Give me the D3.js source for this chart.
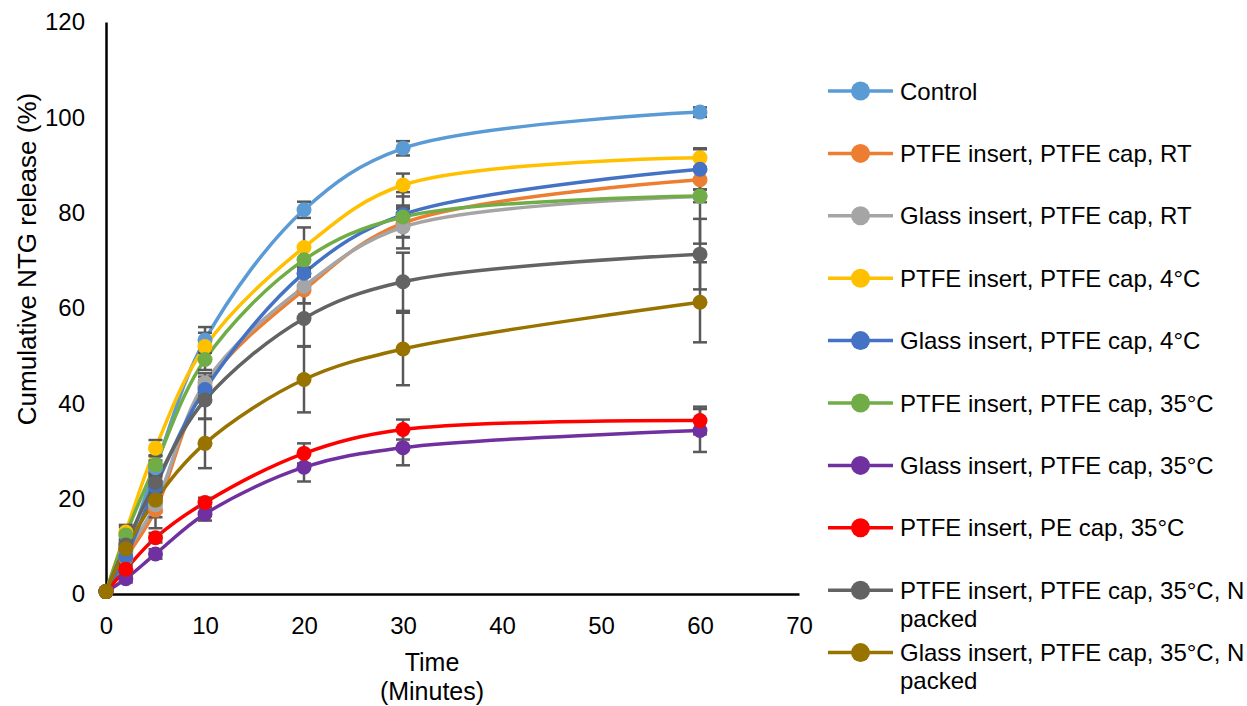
<!DOCTYPE html>
<html><head><meta charset="utf-8">
<script src="https://cdn.jsdelivr.net/npm/d3@7"></script>
<style>
body{margin:0;background:#fff}
svg{display:block}
text{font-family:"Liberation Sans",Arial,sans-serif;fill:#000}
</style>
</head><body>
<svg id="chart" width="1247" height="706"></svg>
<script>
// ---- data ----
const times = [0, 2, 5, 10, 20, 30, 60];
const xTicks = [0, 10, 20, 30, 40, 50, 60, 70];
const yTicks = [0, 20, 40, 60, 80, 100, 120];

const seriesNames = [
  "Control",
  "PTFE insert, PTFE cap, RT",
  "Glass insert, PTFE cap, RT",
  "PTFE insert, PTFE cap, 4°C",
  "Glass insert, PTFE cap, 4°C",
  "PTFE insert, PTFE cap, 35°C",
  "Glass insert, PTFE cap, 35°C",
  "PTFE insert, PE cap, 35°C",
  "PTFE insert, PTFE cap, 35°C, N packed",
  "Glass insert, PTFE cap, 35°C, N packed"
];
const seriesColors = ["#5B9BD5","#ED7D31","#A5A5A5","#FFC000","#4472C4","#70AD47","#7030A0","#FF0000","#636363","#997300"];

const control      = [0.5, 9.0, 26.5, 53.3, 80.6, 93.5, 101.1];
const ptfeRT       = [0.5, 7.5, 17.6, 43.6, 63.8, 77.8, 86.9];
const glassRT      = [0.5, 8.5, 18.7, 44.3, 64.5, 77.0, 83.4];
const ptfe4C       = [0.5, 13.0, 30.6, 51.9, 72.7, 85.8, 91.5];
const glass4C      = [0.5, 7.8, 22.5, 42.9, 67.3, 79.6, 89.1];
const ptfe35C      = [0.5, 12.4, 27.1, 49.2, 70.1, 79.1, 83.5];
const glass35C     = [0.5, 3.2, 8.4, 16.8, 26.6, 30.7, 34.3];
const ptfePE35C    = [0.5, 5.2, 11.8, 19.2, 29.5, 34.5, 36.4];
const ptfeN35C     = [0.5, 10.3, 23.4, 40.7, 57.8, 65.5, 71.3];
const glassN35C    = [0.5, 9.5, 19.7, 31.6, 45.0, 51.4, 61.2];

const errControl   = [0, 1.0, 1.5, 2.7, 1.7, 1.5, 1.0];
const errPtfeRT    = [0, 1.0, 1.5, 2.0, 2.8, 3.0, 2.0];
const errGlassRT   = [0, 1.0, 1.5, 2.0, 3.5, 4.5, 9.9];
const errPtfe4C    = [0, 1.5, 1.7, 2.9, 4.2, 2.4, 2.0];
const errGlass4C   = [0, 1.0, 2.0, 2.0, 3.0, 4.7, 4.3];
const errPtfe35C   = [0, 1.6, 2.0, 2.2, 2.5, 2.0, 1.3];
const errGlass35C  = [0, 0.8, 1.0, 1.4, 3.0, 3.7, 4.5];
const errPtfePE35C = [0, 0.8, 1.0, 1.0, 2.1, 2.1, 2.9];
const errPtfeN35C  = [0, 1.0, 2.0, 4.0, 5.8, 6.1, 7.4];
const errGlassN35C = [0, 1.0, 5.9, 5.2, 6.9, 7.6, 8.4];

const seriesValues = [control, ptfeRT, glassRT, ptfe4C, glass4C, ptfe35C, glass35C, ptfePE35C, ptfeN35C, glassN35C];
const seriesErrors = [errControl, errPtfeRT, errGlassRT, errPtfe4C, errGlass4C, errPtfe35C, errGlass35C, errPtfePE35C, errPtfeN35C, errGlassN35C];

// ---- build ----
const series = seriesNames.map((name, i) => ({
  name, color: seriesColors[i],
  points: times.map((t, j) => ({t, v: seriesValues[i][j], e: seriesErrors[i][j]}))
}));

const svg = d3.select("#chart");
const x = d3.scaleLinear().domain([0, 70]).range([106, 799]);
const y = d3.scaleLinear().domain([0, 120]).range([594, 22]);

// axes
const xAxis = svg.append("g").attr("transform", `translate(0,${y(0)})`)
  .call(d3.axisBottom(x).tickValues(xTicks).tickSize(0).tickPadding(23).tickFormat(d3.format("d")));
const yAxis = svg.append("g").attr("transform", `translate(${x(0)},0)`)
  .call(d3.axisLeft(y).tickValues(yTicks).tickSize(0).tickPadding(21).tickFormat(d3.format("d")));
[xAxis, yAxis].forEach(a => {
  a.select(".domain").attr("stroke", "#000").attr("stroke-width", 2.5);
  a.selectAll("text").attr("font-size", 24).attr("font-family", '"Liberation Sans",Arial,sans-serif').attr("fill", "#000");
});

// axis titles
svg.append("text").attr("x", 432).attr("y", 671).attr("text-anchor", "middle").attr("font-size", 25).text("Time");
svg.append("text").attr("x", 432).attr("y", 700).attr("text-anchor", "middle").attr("font-size", 25).text("(Minutes)");
svg.append("text").attr("transform", "translate(36,259) rotate(-90)").attr("text-anchor", "middle").attr("font-size", 26)
  .text("Cumulative NTG release (%)");

const line = d3.line().x(d => x(d.t)).y(d => y(d.v)).curve(d3.curveCatmullRom.alpha(0.5));

const plot = svg.append("g");
// lines
plot.selectAll(".series-line").data(series).join("path")
  .attr("class", "series-line")
  .attr("d", d => line(d.points))
  .attr("fill", "none").attr("stroke", d => d.color).attr("stroke-width", 3.5)
  .attr("stroke-linejoin", "round").attr("stroke-linecap", "round");

// error bars
const errColor = "#595959";
const capHalf = 7;
series.forEach(s => {
  const g = plot.append("g").attr("class", "err");
  const pts = s.points.filter(p => p.e > 0);
  g.selectAll("line.v").data(pts).join("line").attr("class", "v")
    .attr("x1", p => x(p.t)).attr("x2", p => x(p.t))
    .attr("y1", p => y(p.v + p.e)).attr("y2", p => y(p.v - p.e))
    .attr("stroke", errColor).attr("stroke-width", 2.5);
  g.selectAll("line.ct").data(pts).join("line").attr("class", "ct")
    .attr("x1", p => x(p.t) - capHalf).attr("x2", p => x(p.t) + capHalf)
    .attr("y1", p => y(p.v + p.e)).attr("y2", p => y(p.v + p.e))
    .attr("stroke", errColor).attr("stroke-width", 2.5);
  g.selectAll("line.cb").data(pts).join("line").attr("class", "cb")
    .attr("x1", p => x(p.t) - capHalf).attr("x2", p => x(p.t) + capHalf)
    .attr("y1", p => y(p.v - p.e)).attr("y2", p => y(p.v - p.e))
    .attr("stroke", errColor).attr("stroke-width", 2.5);
});

// markers
series.forEach(s => {
  plot.append("g").selectAll("circle").data(s.points).join("circle")
    .attr("cx", p => x(p.t)).attr("cy", p => y(p.v)).attr("r", 7.5)
    .attr("fill", s.color);
});

// legend
const legendY0 = 91, legendStep = 62.4;
const leg = svg.append("g");
series.forEach((s, i) => {
  const cy = legendY0 + i * legendStep;
  const g = leg.append("g");
  g.append("line").attr("x1", 828).attr("x2", 893).attr("y1", cy).attr("y2", cy)
    .attr("stroke", s.color).attr("stroke-width", 3.5);
  g.append("circle").attr("cx", 860.5).attr("cy", cy).attr("r", 9.5).attr("fill", s.color);
  const lines = s.name.split(/ (?=packed)/);
  const t = g.append("text").attr("x", 900).attr("y", cy + 8.5).attr("font-size", 24);
  lines.forEach((ln, k) => t.append("tspan").attr("x", 900).attr("dy", k === 0 ? 0 : 28).text(ln));
});
</script>
</body></html>
